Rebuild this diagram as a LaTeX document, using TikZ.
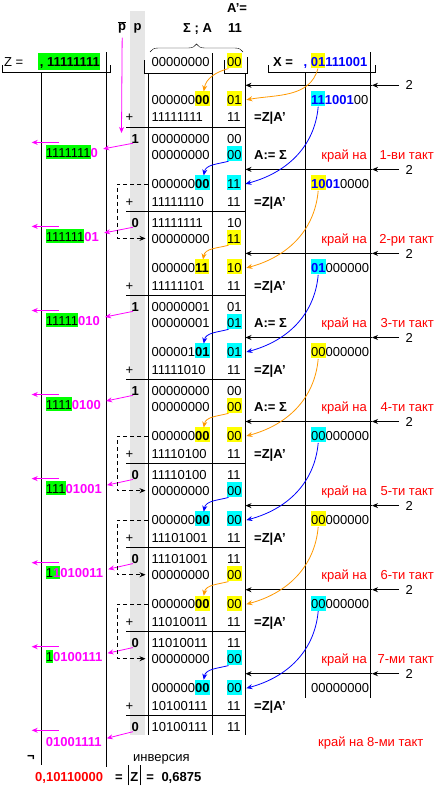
\documentclass[tikz,border=0pt]{standalone}
\usepackage{fontspec}
\setmainfont{Liberation Sans}
\usetikzlibrary{arrows.meta,decorations.pathreplacing}
\definecolor{hy}{RGB}{255,255,0}
\definecolor{hc}{RGB}{0,255,255}
\definecolor{hg}{RGB}{0,255,0}
\definecolor{mag}{RGB}{255,0,255}
\definecolor{orc}{RGB}{255,153,0}
\definecolor{grs}{RGB}{230,230,230}
\newcommand\fs{\fontsize{13}{15}\selectfont}
\newcommand\hlY[1]{{\setlength{\fboxsep}{0pt}\colorbox{hy}{\rule[-1.7pt]{0pt}{15pt}#1}}}
\newcommand\hlC[1]{{\setlength{\fboxsep}{0pt}\colorbox{hc}{\rule[-1.7pt]{0pt}{15pt}#1}}}
\newcommand\hlG[1]{{\setlength{\fboxsep}{0pt}\colorbox{hg}{\rule[-1pt]{0pt}{13.3pt}#1}}}
\newcommand\hlGT[1]{{\setlength{\fboxsep}{0pt}\colorbox{hg}{\rule[-3.3pt]{0pt}{17pt}#1}}}
\newcommand\zM[1]{\textcolor{mag}{\bfseries #1}}
\newcommand\xB[1]{\textcolor{blue}{\bfseries #1}}
\begin{document}
\begin{tikzpicture}[x=1pt,y=-1pt,
 tx/.style={anchor=west,inner sep=0pt,text height=9.3pt,text depth=0pt,font=\fs},
 tb/.style={tx,font=\fs\bfseries},
 tre/.style={tx,anchor=east,text=red},
 ln/.style={line width=0.9pt},
 ar/.style={line width=0.8pt,-{Stealth[length=6pt,width=5pt]}},
 mg/.style={ar,draw=mag},
 oc/.style={ar,draw=orc},
 bc/.style={ar,draw=blue},
 dsh/.style={ar,dash pattern=on 4pt off 3pt}]
\useasboundingbox (0,0) rectangle (445,790);
\fill[white] (0,0) rectangle (445,790);
\fill[grs] (130,11) rectangle (145,735);
% header
\node[tb] (ap) at (227,7.5) {A’=};
\node[tb] (pb) at (118,26) {$\overline{\mbox{\bfseries p}}$};
\node[tb] (pp) at (133.5,26) {p};
\node[tb] (sa) at (183,28.3) {Σ ; A};
\node[tb] (a11) at (228,28.3) {11};
\draw[decorate,decoration={brace,amplitude=8pt}] (150,52) -- (243,52);
\node[tx] (zl) at (4,61.7) {Z =};
\node[tx] (zv) at (37.7,61.7) {\hlGT{\bfseries\hspace{2pt}, 11111111}};
\node[tx] (s0) at (151.5,61.7) {00000000};
\node[tx] (a0) at (227,61.7) {\hlY{00}};
\node[tb] (xl) at (273,61.7) {X =};
\node[tb,text=blue] (xv) at (303.5,61.7) {, \hlY{01}111001};
% frame lines
\draw[ln] (2,65) -- (2,72) -- (110,72) -- (110,65);
\draw[ln] (41,72) -- (41,765);
\draw[ln] (106,52) -- (106,767);
\draw[ln] (144,60) -- (144,73) -- (212,73);
\draw[ln] (224,60) -- (224,73) -- (247,73) -- (247,57);
\draw[ln] (148,73) -- (148,735);
\draw[ln] (212,53) -- (212,735);
\draw[ln] (245,73) -- (245,735);
\draw[ln] (268,65) -- (268,72.5) -- (375,72.5) -- (375,65);
\draw[ln] (305,72) -- (305,698);
\draw[ln] (370,52) -- (370,698);
\coordinate (pend) at (121.5,133);
\draw[mg] (pb.north |- 0,37.7) -- (pend);
% ---------- takt 0
\node[tx] (two0) at (405.5,85.3) {2};
\coordinate (m0) at (372,85.3); \coordinate (e0) at (245.5,85.3);
\draw[ar] ([xshift=-6.5pt]two0.west) -- (m0); \draw[ar] (m0) -- (e0);
\node[tx] (s0s) at (151.5,99.8) {000000\hlY{\bfseries 00}};
\node[tx] (a0s) at (227,99.8) {\hlY{01}};
\node[tx] (x0s) at (311,99.8) {\hlC{\xB{11}}\xB{1001}00};
\node[tx] (pl0) at (125.5,117.3) {+};
\node[tx] (s0p) at (151.5,117.3) {11111111};
\node[tx] (a0p) at (227,117.3) {11};
\node[tb] (z0p) at (254,117.3) {=Z|A’};
\draw[ln] (126,127.3) -- (245,127.3);
\draw[oc] ([xshift=14.4pt,yshift=-2pt]xv.south west) to[out=-105,in=10] ([xshift=4.5pt]a0s.east);
\draw[oc] ([xshift=1.5pt,yshift=-2pt]a0.south west) to[out=195,in=80] ([xshift=-6pt,yshift=13.3pt]s0s.south east);
% ---------- takt 1
\node[tb] (b1) at (131.5,138.4) {1};
\node[tx] (s1a) at (151.5,138.4) {00000000};
\node[tx] (a1a) at (227,138.4) {00};
\node[tx] (s1b) at (151.5,154.4) {00000000};
\node[tx] (a1b) at (227,154.4) {\hlC{00}};
\node[tb] (as1) at (254,154.4) {A:= Σ};
\node[tx] (z1) at (45.7,152.9) {\hlG{1111111}\zM{0}};
\node[tre] (kr1) at (367,154.4) {край на};
\node[tre] (kt1) at (434,154.4) {1-ви такт};
\node[tx] (two1) at (405.5,169.4) {2};
\coordinate (m1) at (372,169.4); \coordinate (e1) at (245.5,169.4);
\draw[ar] ([xshift=-6.5pt]two1.west) -- (m1); \draw[ar] (m1) -- (e1);
\node[tx] (s1s) at (151.5,183.9) {000000\hlC{\bfseries 00}};
\node[tx] (a1s) at (227,183.9) {\hlC{11}};
\node[tx] (x1s) at (311,183.9) {\hlY{\xB{10}}\xB{01}0000};
\node[tx] (pl1) at (125.5,201.4) {+};
\node[tx] (s1p) at (151.5,201.4) {11111110};
\node[tx] (a1p) at (227,201.4) {11};
\node[tb] (z1p) at (254,201.4) {=Z|A’};
\draw[ln] (126,211.4) -- (245,211.4);
\draw[mg] ([xshift=1.5pt]b1.south west) -- ([xshift=5pt,yshift=4pt]z1.east);
\draw[mg] ([xshift=13pt,yshift=10.5pt]z1.west) -- ([xshift=-14pt,yshift=10.5pt]z1.west);
\draw[bc] ([xshift=7.2pt,yshift=-2pt]x0s.south west) to[out=-95,in=15] ([xshift=4.5pt]a1s.east);
\draw[bc] ([xshift=1.5pt,yshift=-2pt]a1b.south west) to[out=195,in=80] ([xshift=-6pt,yshift=13.3pt]s1s.south east);
% ---------- takt 2
\node[tb] (b2) at (131.5,222.4) {0};
\node[tx] (s2a) at (151.5,222.4) {11111111};
\node[tx] (a2a) at (227,222.4) {10};
\node[tx] (s2b) at (151.5,238.4) {00000000};
\node[tx] (a2b) at (227,238.4) {\hlY{11}};
\node[tx] (z2) at (45.7,236.9) {\hlG{111111}\zM{01}};
\node[tre] (kr2) at (367,238.4) {край на};
\node[tre] (kt2) at (434,238.4) {2-ри такт};
\node[tx] (two2) at (405.5,253.4) {2};
\coordinate (m2) at (372,253.4); \coordinate (e2) at (245.5,253.4);
\draw[ar] ([xshift=-6.5pt]two2.west) -- (m2); \draw[ar] (m2) -- (e2);
\node[tx] (s2s) at (151.5,267.9) {000000\hlY{\bfseries 11}};
\node[tx] (a2s) at (227,267.9) {\hlY{10}};
\node[tx] (x2s) at (311,267.9) {\hlC{\xB{01}}000000};
\node[tx] (pl2) at (125.5,285.4) {+};
\node[tx] (s2p) at (151.5,285.4) {11111101};
\node[tx] (a2p) at (227,285.4) {11};
\node[tb] (z2p) at (254,285.4) {=Z|A’};
\draw[ln] (126,295.4) -- (245,295.4);
\draw[mg] ([xshift=1.5pt]b2.south west) -- ([xshift=5pt,yshift=4pt]z2.east);
\draw[mg] ([xshift=13pt,yshift=10.5pt]z2.west) -- ([xshift=-14pt,yshift=10.5pt]z2.west);
\draw[oc] ([xshift=7.2pt,yshift=-2pt]x1s.south west) to[out=-95,in=15] ([xshift=4.5pt]a2s.east);
\draw[oc] ([xshift=1.5pt,yshift=-2pt]a2b.south west) to[out=195,in=80] ([xshift=-6pt,yshift=13.3pt]s2s.south east);
\draw[dsh] ([xshift=-3.5pt]s1s.west) -- ++(-31,0) |- ([xshift=-6pt]s2b.west);
% ---------- takt 3
\node[tb] (b3) at (131.5,306.5) {1};
\node[tx] (s3a) at (151.5,306.5) {00000001};
\node[tx] (a3a) at (227,306.5) {01};
\node[tx] (s3b) at (151.5,322.5) {00000001};
\node[tx] (a3b) at (227,322.5) {\hlC{01}};
\node[tb] (as3) at (254,322.5) {A:= Σ};
\node[tx] (z3) at (45.7,321) {\hlG{11111}\zM{010}};
\node[tre] (kr3) at (367,322.5) {край на};
\node[tre] (kt3) at (434,322.5) {3-ти такт};
\node[tx] (two3) at (405.5,337.5) {2};
\coordinate (m3) at (372,337.5); \coordinate (e3) at (245.5,337.5);
\draw[ar] ([xshift=-6.5pt]two3.west) -- (m3); \draw[ar] (m3) -- (e3);
\node[tx] (s3s) at (151.5,352) {000001\hlC{\bfseries 01}};
\node[tx] (a3s) at (227,352) {\hlC{01}};
\node[tx] (x3s) at (311,352) {\hlY{00}000000};
\node[tx] (pl3) at (125.5,369.5) {+};
\node[tx] (s3p) at (151.5,369.5) {11111010};
\node[tx] (a3p) at (227,369.5) {11};
\node[tb] (z3p) at (254,369.5) {=Z|A’};
\draw[ln] (126,379.5) -- (245,379.5);
\draw[mg] ([xshift=1.5pt]b3.south west) -- ([xshift=5pt,yshift=4pt]z3.east);
\draw[mg] ([xshift=13pt,yshift=10.5pt]z3.west) -- ([xshift=-14pt,yshift=10.5pt]z3.west);
\draw[bc] ([xshift=7.2pt,yshift=-2pt]x2s.south west) to[out=-95,in=15] ([xshift=4.5pt]a3s.east);
\draw[bc] ([xshift=1.5pt,yshift=-2pt]a3b.south west) to[out=195,in=80] ([xshift=-6pt,yshift=13.3pt]s3s.south east);
% ---------- takt 4
\node[tb] (b4) at (131.5,390.5) {1};
\node[tx] (s4a) at (151.5,390.5) {00000000};
\node[tx] (a4a) at (227,390.5) {00};
\node[tx] (s4b) at (151.5,406.5) {00000000};
\node[tx] (a4b) at (227,406.5) {\hlY{00}};
\node[tb] (as4) at (254,406.5) {A:= Σ};
\node[tx] (z4) at (45.7,405) {\hlG{1111}\zM{0100}};
\node[tre] (kr4) at (367,406.5) {край на};
\node[tre] (kt4) at (434,406.5) {4-ти такт};
\node[tx] (two4) at (405.5,421.5) {2};
\coordinate (m4) at (372,421.5); \coordinate (e4) at (245.5,421.5);
\draw[ar] ([xshift=-6.5pt]two4.west) -- (m4); \draw[ar] (m4) -- (e4);
\node[tx] (s4s) at (151.5,436) {000000\hlY{\bfseries 00}};
\node[tx] (a4s) at (227,436) {\hlY{00}};
\node[tx] (x4s) at (311,436) {\hlC{00}000000};
\node[tx] (pl4) at (125.5,453.5) {+};
\node[tx] (s4p) at (151.5,453.5) {11110100};
\node[tx] (a4p) at (227,453.5) {11};
\node[tb] (z4p) at (254,453.5) {=Z|A’};
\draw[ln] (126,463.5) -- (245,463.5);
\draw[mg] ([xshift=1.5pt]b4.south west) -- ([xshift=5pt,yshift=4pt]z4.east);
\draw[mg] ([xshift=13pt,yshift=10.5pt]z4.west) -- ([xshift=-14pt,yshift=10.5pt]z4.west);
\draw[oc] ([xshift=7.2pt,yshift=-2pt]x3s.south west) to[out=-95,in=15] ([xshift=4.5pt]a4s.east);
\draw[oc] ([xshift=1.5pt,yshift=-2pt]a4b.south west) to[out=195,in=80] ([xshift=-6pt,yshift=13.3pt]s4s.south east);
% ---------- takt 5
\node[tb] (b5) at (131.5,474.6) {0};
\node[tx] (s5a) at (151.5,474.6) {11110100};
\node[tx] (a5a) at (227,474.6) {11};
\node[tx] (s5b) at (151.5,490.6) {00000000};
\node[tx] (a5b) at (227,490.6) {\hlC{00}};
\node[tx] (z5) at (45.7,489.1) {\hlG{111}\zM{01001}};
\node[tre] (kr5) at (367,490.6) {край на};
\node[tre] (kt5) at (434,490.6) {5-ти такт};
\node[tx] (two5) at (405.5,505.6) {2};
\coordinate (m5) at (372,505.6); \coordinate (e5) at (245.5,505.6);
\draw[ar] ([xshift=-6.5pt]two5.west) -- (m5); \draw[ar] (m5) -- (e5);
\node[tx] (s5s) at (151.5,520.1) {000000\hlC{\bfseries 00}};
\node[tx] (a5s) at (227,520.1) {\hlC{00}};
\node[tx] (x5s) at (311,520.1) {\hlY{00}000000};
\node[tx] (pl5) at (125.5,537.6) {+};
\node[tx] (s5p) at (151.5,537.6) {11101001};
\node[tx] (a5p) at (227,537.6) {11};
\node[tb] (z5p) at (254,537.6) {=Z|A’};
\draw[ln] (126,547.6) -- (245,547.6);
\draw[mg] ([xshift=1.5pt]b5.south west) -- ([xshift=5pt,yshift=4pt]z5.east);
\draw[mg] ([xshift=13pt,yshift=10.5pt]z5.west) -- ([xshift=-14pt,yshift=10.5pt]z5.west);
\draw[bc] ([xshift=7.2pt,yshift=-2pt]x4s.south west) to[out=-95,in=15] ([xshift=4.5pt]a5s.east);
\draw[bc] ([xshift=1.5pt,yshift=-2pt]a5b.south west) to[out=195,in=80] ([xshift=-6pt,yshift=13.3pt]s5s.south east);
\draw[dsh] ([xshift=-3.5pt]s4s.west) -- ++(-31,0) |- ([xshift=-6pt]s5b.west);
% ---------- takt 6
\node[tb] (b6) at (131.5,558.7) {0};
\node[tx] (s6a) at (151.5,558.7) {11101001};
\node[tx] (a6a) at (227,558.7) {11};
\node[tx] (s6b) at (151.5,574.7) {00000000};
\node[tx] (a6b) at (227,574.7) {\hlY{00}};
\node[tx] (z6) at (45.7,573.2) {\hlG{1\zM{1}}\zM{010011}};
\node[tre] (kr6) at (367,574.7) {край на};
\node[tre] (kt6) at (434,574.7) {6-ти такт};
\node[tx] (two6) at (405.5,589.7) {2};
\coordinate (m6) at (372,589.7); \coordinate (e6) at (245.5,589.7);
\draw[ar] ([xshift=-6.5pt]two6.west) -- (m6); \draw[ar] (m6) -- (e6);
\node[tx] (s6s) at (151.5,604.2) {000000\hlY{\bfseries 00}};
\node[tx] (a6s) at (227,604.2) {\hlY{00}};
\node[tx] (x6s) at (311,604.2) {\hlC{00}000000};
\node[tx] (pl6) at (125.5,621.7) {+};
\node[tx] (s6p) at (151.5,621.7) {11010011};
\node[tx] (a6p) at (227,621.7) {11};
\node[tb] (z6p) at (254,621.7) {=Z|A’};
\draw[ln] (126,631.7) -- (245,631.7);
\draw[mg] ([xshift=1.5pt]b6.south west) -- ([xshift=5pt,yshift=4pt]z6.east);
\draw[mg] ([xshift=13pt,yshift=10.5pt]z6.west) -- ([xshift=-14pt,yshift=10.5pt]z6.west);
\draw[oc] ([xshift=7.2pt,yshift=-2pt]x5s.south west) to[out=-95,in=15] ([xshift=4.5pt]a6s.east);
\draw[oc] ([xshift=1.5pt,yshift=-2pt]a6b.south west) to[out=195,in=80] ([xshift=-6pt,yshift=13.3pt]s6s.south east);
\draw[dsh] ([xshift=-3.5pt]s5s.west) -- ++(-31,0) |- ([xshift=-6pt]s6b.west);
% ---------- takt 7
\node[tb] (b7) at (131.5,642.7) {0};
\node[tx] (s7a) at (151.5,642.7) {11010011};
\node[tx] (a7a) at (227,642.7) {11};
\node[tx] (s7b) at (151.5,658.7) {00000000};
\node[tx] (a7b) at (227,658.7) {\hlC{00}};
\node[tx] (z7) at (45.7,657.2) {\hlG{1}\zM{0100111}};
\node[tre] (kr7) at (367,658.7) {край на};
\node[tre] (kt7) at (434,658.7) {7-ми такт};
\node[tx] (two7) at (405.5,673.7) {2};
\coordinate (m7) at (372,673.7); \coordinate (e7) at (245.5,673.7);
\draw[ar] ([xshift=-6.5pt]two7.west) -- (m7); \draw[ar] (m7) -- (e7);
\node[tx] (s7s) at (151.5,688.2) {000000\hlC{\bfseries 00}};
\node[tx] (a7s) at (227,688.2) {\hlC{00}};
\node[tx] (x7s) at (311,688.2) {00000000};
\node[tx] (pl7) at (125.5,705.7) {+};
\node[tx] (s7p) at (151.5,705.7) {10100111};
\node[tx] (a7p) at (227,705.7) {11};
\node[tb] (z7p) at (254,705.7) {=Z|A’};
\draw[ln] (126,715.7) -- (245,715.7);
\draw[mg] ([xshift=1.5pt]b7.south west) -- ([xshift=5pt,yshift=4pt]z7.east);
\draw[mg] ([xshift=13pt,yshift=10.5pt]z7.west) -- ([xshift=-14pt,yshift=10.5pt]z7.west);
\draw[bc] ([xshift=7.2pt,yshift=-2pt]x6s.south west) to[out=-95,in=15] ([xshift=4.5pt]a7s.east);
\draw[bc] ([xshift=1.5pt,yshift=-2pt]a7b.south west) to[out=195,in=80] ([xshift=-6pt,yshift=13.3pt]s7s.south east);
\draw[dsh] ([xshift=-3.5pt]s6s.west) -- ++(-31,0) |- ([xshift=-6pt]s7b.west);
% ---------- takt 8
\node[tb] (b8) at (131.5,726.8) {0};
\node[tx] (s8a) at (151.5,726.8) {10100111};
\node[tx] (a8a) at (227,726.8) {11};
\node[tx] (z8) at (45.7,742.3) {\zM{01001111}};
\node[tx,text=red] (kr8) at (318,742.3) {край на 8-ми такт};
\draw[mg] ([xshift=1.5pt]b8.south west) -- ([xshift=5pt,yshift=4pt]z8.east);
\draw[mg] ([xshift=13pt,yshift=12pt]z8.west) -- ([xshift=-14pt,yshift=12pt]z8.west);
% ---------- result
\node[tb] (neg) at (27,755.5) {¬};
\node[tx] (inv) at (133,756.7) {инверсия};
\node[tb,text=red] (res) at (35,776.7) {0,10110000};
\node[tb] (val) at (115,776.7) {=\hspace{5pt}\rule[-4pt]{1.1pt}{20pt}\hspace{1.5pt}Z\hspace{1.5pt}\rule[-4pt]{1.1pt}{20pt}\hspace{5.5pt}=\hspace{7.5pt}0,6875};
\end{tikzpicture}
\end{document}
